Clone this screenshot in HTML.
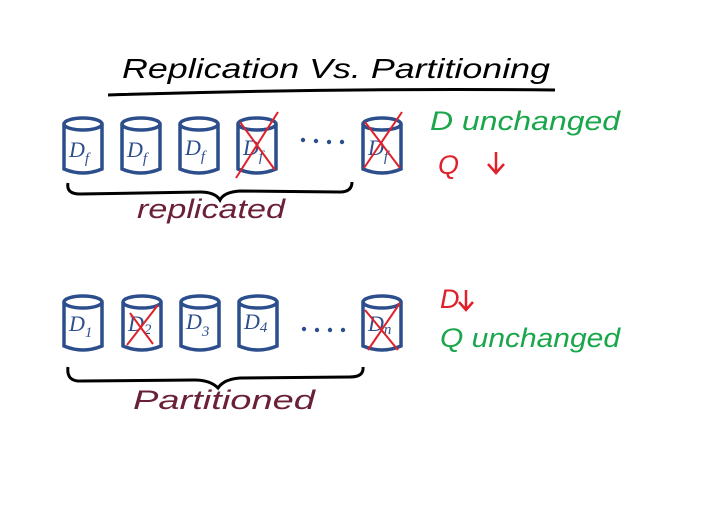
<!DOCTYPE html>
<html><head><style>body{margin:0;background:#fff}svg{display:block}</style></head><body>
<svg width="710" height="515" viewBox="0 0 710 515" xmlns="http://www.w3.org/2000/svg" font-family="Liberation Sans, sans-serif">
<rect width="710" height="515" fill="#fff"/>
<text x="122" y="78" font-size="28" fill="#000" font-style="italic" textLength="428" lengthAdjust="spacingAndGlyphs">Replication  Vs.  Partitioning</text>
<path d="M108 95 Q330 88 555 90" stroke="#000" stroke-width="3" fill="none"/>
<g stroke="#2c4e8c" stroke-width="3.5" fill="none">
<path d="M64 124 v45 q19 8 38 0 v-45"/><ellipse cx="83" cy="124" rx="19" ry="6"/>
<path d="M122 124 v45 q19 8 38 0 v-45"/><ellipse cx="141" cy="124" rx="19" ry="6"/>
<path d="M180 124 v45 q19 8 38 0 v-45"/><ellipse cx="199" cy="124" rx="19" ry="6"/>
<path d="M238 124 v45 q19 8 38 0 v-45"/><ellipse cx="257" cy="124" rx="19" ry="6"/>
<path d="M363 124 v45 q19 8 38 0 v-45"/><ellipse cx="382" cy="124" rx="19" ry="6"/>
<path d="M64 302 v44 q19 8 38 0 v-44"/><ellipse cx="83" cy="302" rx="19" ry="6"/>
<path d="M123 302 v44 q19 8 38 0 v-44"/><ellipse cx="142" cy="302" rx="19" ry="6"/>
<path d="M181 302 v44 q19 8 38 0 v-44"/><ellipse cx="200" cy="302" rx="19" ry="6"/>
<path d="M239 302 v44 q19 8 38 0 v-44"/><ellipse cx="258" cy="302" rx="19" ry="6"/>
<path d="M363 302 v44 q19 8 38 0 v-44"/><ellipse cx="382" cy="302" rx="19" ry="6"/>
</g>
<g fill="#2c4e8c" font-size="22" font-style="italic" font-family="Liberation Serif, serif">
<text x="69" y="157">D<tspan font-size="15" dy="6">f</tspan></text>
<text x="127" y="157">D<tspan font-size="15" dy="6">f</tspan></text>
<text x="185" y="155">D<tspan font-size="15" dy="6">f</tspan></text>
<text x="243" y="155">D<tspan font-size="15" dy="6">f</tspan></text>
<text x="368" y="155">D<tspan font-size="15" dy="6">f</tspan></text>
<text x="69" y="331">D<tspan font-size="15" dy="6">1</tspan></text>
<text x="128" y="331">D<tspan font-size="15" dy="3">2</tspan></text>
<text x="186" y="329">D<tspan font-size="15" dy="7">3</tspan></text>
<text x="244" y="329">D<tspan font-size="15" dy="3">4</tspan></text>
<text x="368" y="331">D<tspan font-size="15" dy="3">n</tspan></text>
</g>
<g fill="#2c4e8c"><circle cx="303" cy="140" r="2.2"/><circle cx="316" cy="141" r="2.2"/><circle cx="329" cy="142" r="2.2"/><circle cx="342" cy="142" r="2.2"/>
<circle cx="304" cy="329" r="2.2"/><circle cx="317" cy="330" r="2.2"/><circle cx="330" cy="330" r="2.2"/><circle cx="343" cy="330" r="2.2"/></g>
<g stroke="#e0202a" stroke-width="2" fill="none">
<path d="M240 122 L275 170 M278 112 L236 178"/>
<path d="M365 122 L400 168 M402 112 L364 168"/>
<path d="M130 313 L153 344 M158 305 L127 345"/>
<path d="M365 310 L398 350 M400 303 L368 350"/>
</g>
<g stroke="#000" stroke-width="3" fill="none">
<path d="M68 183 Q66 194 80 194 L200 192 Q215 192 220 200 Q224 192 240 191 L340 192 Q352 192 352 182"/>
<path d="M68 367 Q66 382 82 381 L195 380 Q210 380 218 388 Q224 379 240 378 L350 377 Q364 377 363 367"/>
</g>
<text x="137" y="218" font-size="27" fill="#6a2036" font-style="italic" textLength="148" lengthAdjust="spacingAndGlyphs">replicated</text>
<text x="133" y="409" font-size="27" fill="#6a2036" font-style="italic" textLength="182" lengthAdjust="spacingAndGlyphs">Partitioned</text>
<g font-size="27" font-style="italic">
<text x="430" y="130" fill="#1aa64a" textLength="190" lengthAdjust="spacingAndGlyphs">D  unchanged</text>
<text x="438" y="174" fill="#e0202a">Q</text>
<path d="M496 152 v20 M488 164 l8 9 l8 -9" stroke="#e0202a" stroke-width="2.5" fill="none"/>
<text x="440" y="308" fill="#e0202a">D</text>
<path d="M466 290 v20 M459 302 l7 8 l7 -8" stroke="#e0202a" stroke-width="2.5" fill="none"/>
<text x="440" y="347" fill="#1aa64a" textLength="180" lengthAdjust="spacingAndGlyphs">Q  unchanged</text>
</g>
</svg>
</body></html>
